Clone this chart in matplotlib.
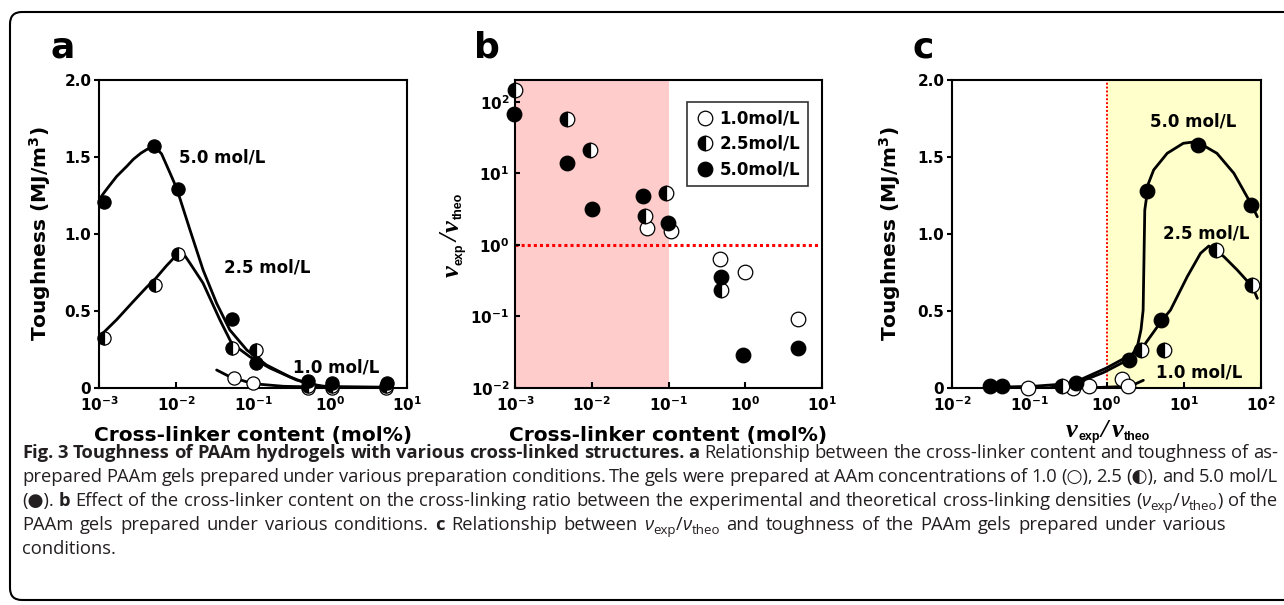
import numpy as np
import matplotlib
matplotlib.use("Agg")
import matplotlib.pyplot as plt
from matplotlib.patches import FancyBboxPatch
from matplotlib.transforms import IdentityTransform
from matplotlib.ticker import NullLocator

# ---------------- data ----------------
# panel a : toughness vs cross-linker content
a_x10 = [0.0564, 0.10, 0.52, 1.06, 5.4]
a_y10 = [0.063, 0.030, 0.0, 0.0, 0.0]
a_x25 = [0.00117, 0.0053, 0.0106, 0.054, 0.11, 0.52, 1.06, 5.4]
a_y25 = [0.324, 0.666, 0.871, 0.258, 0.250, 0.010, 0.010, 0.010]
a_x50 = [0.00117, 0.0052, 0.0106, 0.053, 0.108, 0.52, 1.06, 5.5]
a_y50 = [1.21, 1.57, 1.29, 0.45, 0.164, 0.047, 0.030, 0.034]
# fitted guide curves in panel a
a_fx50 = [1.0e-3, 1.15e-3, 1.3e-3, 1.5e-3, 1.69e-3, 2.0e-3, 2.3e-3, 2.79e-3, 3.5e-3, 4.15e-3,
          5.2e-3, 6.5e-3, 8.3e-3, 1.02e-2, 1.52e-2, 2.25e-2, 3.37e-2, 5.0e-2, 8.3e-2, 0.15,
          0.30, 0.55, 1.2, 6.0]
a_fy50 = [1.222, 1.265, 1.30, 1.34, 1.373, 1.41, 1.44, 1.485, 1.525, 1.548,
          1.572, 1.52, 1.40, 1.297, 1.026, 0.766, 0.55, 0.377, 0.247, 0.149,
          0.073, 0.02, 0.005, 0.005]
a_fx25 = [1.0e-3, 1.69e-3, 2.79e-3, 4.2e-3, 5.3e-3, 7.5e-3, 1.02e-2, 1.12e-2, 1.3e-2, 1.52e-2,
          2.24e-2, 3.72e-2, 5.28e-2, 9.1e-2, 0.165, 0.367, 0.8, 6.0]
a_fy25 = [0.331, 0.443, 0.562, 0.657, 0.705, 0.793, 0.864, 0.885, 0.86, 0.81,
          0.682, 0.442, 0.29, 0.203, 0.13, 0.052, 0.01, 0.004]
a_fx10 = [3.37e-2, 5.0e-2, 0.1, 0.25, 1.1, 6.0]
a_fy10 = [0.117, 0.073, 0.028, 0.011, 0.004, 0.004]

# panel b : nu_exp / nu_theo vs cross-linker content
b_x10 = [0.0527, 0.109, 0.475, 1.0, 4.87]
b_y10 = [1.71, 1.57, 0.63, 0.425, 0.093]
b_x25 = [0.00099, 0.00475, 0.0095, 0.0492, 0.0923, 0.48]
b_y25 = [149, 58.5, 21.6, 2.54, 5.26, 0.236]
b_x50 = [0.00098, 0.00475, 0.0100, 0.0464, 0.098, 0.48, 0.94, 4.87]
b_y50 = [68.8, 13.8, 3.18, 4.83, 2.05, 0.361, 0.029, 0.036]

# panel c : toughness vs nu_exp / nu_theo
c_x10 = [0.095, 0.37, 0.59, 1.57, 1.88]
c_y10 = [0.0, 0.0, 0.011, 0.06, 0.012]
c_x25 = [0.267, 2.83, 5.6, 26.0, 76.0]
c_y25 = [0.010, 0.249, 0.249, 0.897, 0.666]
c_x50 = [0.031, 0.045, 0.40, 1.98, 3.32, 5.1, 15.2, 74.0]
c_y50 = [0.012, 0.010, 0.032, 0.18, 1.28, 0.44, 1.578, 1.19]
c_fx50 = [0.0279, 0.112, 0.41, 0.91, 1.98, 2.51, 2.8, 2.98, 3.13, 3.5, 4.08, 6.1, 9.86,
          14.7, 26.9, 44.6, 73.5, 89.7]
c_fy50 = [0.004, 0.011, 0.032, 0.10, 0.188, 0.27, 0.38, 0.506, 1.156, 1.33, 1.416, 1.524, 1.589,
          1.60, 1.524, 1.394, 1.2, 1.112]
c_fx25 = [0.185, 0.41, 1.0, 2.83, 5.1, 6.73, 11.1, 16.5, 21.1, 33.1, 49.3, 77.3, 89.7]
c_fy25 = [0.0, 0.043, 0.13, 0.253, 0.432, 0.506, 0.723, 0.875, 0.922, 0.853, 0.766, 0.658, 0.582]
c_fx10 = [0.092, 0.5, 2.02, 3.0]
c_fy10 = [0.0, 0.0, 0.011, 0.05]

series_labels = ["1.0mol/L", "2.5mol/L", "5.0mol/L"]
curve_labels = ["1.0 mol/L", "2.5 mol/L", "5.0 mol/L"]
tough_ticks = [0, 0.5, 1.0, 1.5, 2.0]
tough_ticklabels = ["0", "0.5", "1.0", "1.5", "2.0"]

# ---------------- style ----------------
plt.rcParams.update({
    "font.family": "DejaVu Sans",
    "font.weight": "bold",
    "mathtext.fontset": "custom",
    "mathtext.rm": "DejaVu Sans:bold",
    "mathtext.bf": "DejaVu Sans:bold",
    "mathtext.it": "DejaVu Sans:italic:bold",
    "axes.linewidth": 1.5,
})

W, H = 1284, 605
fig = plt.figure(figsize=(W / 100, H / 100), dpi=100)
renderer = fig.canvas.get_renderer()
ID = IdentityTransform()


def px_axes(x0, x1, ytop, ybot):
    return fig.add_axes([x0 / W, 1 - ybot / H, (x1 - x0) / W, (ybot - ytop) / H])


axA = px_axes(99, 407, 80, 388)
axB = px_axes(515, 822, 80, 388)
axC = px_axes(952, 1261, 80, 388)

TICK_FS = 11
LAB_FS = 14.5
ANN_FS = 12

open_kw = dict(marker="o", linestyle="none", mfc="white", mec="black", mew=0.9)
half_kw = dict(marker="o", linestyle="none", fillstyle="left", mfc="black",
               mfcalt="white", mec="black", mew=0.9)
full_kw = dict(marker="o", linestyle="none", mfc="black", mec="black", mew=0.9)


def style_axes(ax, y_out=True):
    ax.tick_params(axis="x", direction="in", length=4, width=1.5, labelsize=TICK_FS, pad=5)
    ax.tick_params(axis="y", direction="out" if y_out else "in", length=3.5, width=1.5,
                   labelsize=TICK_FS, pad=2 if y_out else 4)
    ax.tick_params(top=False, right=False)
    ax.xaxis.set_minor_locator(NullLocator())
    ax.yaxis.set_minor_locator(NullLocator())


# ---------------- panel a ----------------
axA.set_xscale("log")
axA.set_xlim(1e-3, 1e1)
axA.set_ylim(0, 2.0)
for fx, fy in [(a_fx50, a_fy50), (a_fx25, a_fy25), (a_fx10, a_fy10)]:
    axA.plot(fx, fy, color="black", lw=2.0, zorder=2, solid_capstyle="round",
             solid_joinstyle="round")
axA.plot(a_x10, a_y10, ms=9.5, zorder=3, clip_on=False, **open_kw)
axA.plot(a_x25, a_y25, ms=9.5, zorder=4, clip_on=False, **half_kw)
axA.plot(a_x50, a_y50, ms=9.5, zorder=5, clip_on=False, **full_kw)
axA.set_xticks([1e-3, 1e-2, 1e-1, 1e0, 1e1])
axA.set_yticks(tough_ticks, tough_ticklabels)
style_axes(axA, y_out=True)
axA.set_xlabel("Cross-linker content (mol%)", fontsize=LAB_FS, fontweight="bold")
axA.set_ylabel("Toughness (MJ/m$^{3}$)", fontsize=LAB_FS, fontweight="bold")
axA.xaxis.set_label_coords(0.5, -0.125)
axA.yaxis.set_label_coords(-0.15, 0.5)
axA.text(0.40, 0.75, curve_labels[2], transform=axA.transAxes, fontsize=ANN_FS,
         ha="center", va="center")
axA.text(0.545, 0.39, curve_labels[1], transform=axA.transAxes, fontsize=ANN_FS,
         ha="center", va="center")
axA.text(0.77, 0.068, curve_labels[0], transform=axA.transAxes, fontsize=ANN_FS,
         ha="center", va="center")

# ---------------- panel b ----------------
axB.set_xscale("log")
axB.set_yscale("log")
axB.set_xlim(1e-3, 1e1)
axB.set_ylim(1e-2, 203)
axB.axvspan(1e-3, 1e-1, color="#ffcccc", lw=0, zorder=0)
axB.axhline(1.0, color="#ff0000", lw=2.2, linestyle=(0, (1, 1)), zorder=1)
h1, = axB.plot(b_x10, b_y10, ms=10.5, zorder=3, clip_on=False, label=series_labels[0], **open_kw)
h2, = axB.plot(b_x25, b_y25, ms=10.5, zorder=4, clip_on=False, label=series_labels[1], **half_kw)
h3, = axB.plot(b_x50, b_y50, ms=10.5, zorder=5, clip_on=False, label=series_labels[2], **full_kw)
axB.set_xticks([1e-3, 1e-2, 1e-1, 1e0, 1e1])
axB.set_yticks([1e-2, 1e-1, 1e0, 1e1, 1e2])
style_axes(axB, y_out=False)
axB.set_xlabel("Cross-linker content (mol%)", fontsize=LAB_FS, fontweight="bold")
axB.xaxis.set_label_coords(0.5, -0.125)
leg = axB.legend(handles=[h1, h2, h3], loc="upper right", bbox_to_anchor=(0.954, 0.929),
                 fontsize=ANN_FS, frameon=True, fancybox=False, framealpha=1,
                 edgecolor="#333333", handletextpad=0.3, handlelength=1.2,
                 borderpad=0.45, labelspacing=0.45, borderaxespad=0)
leg.get_frame().set_linewidth(1.2)

# ---------------- panel c ----------------
axC.set_xscale("log")
axC.set_xlim(1e-2, 1e2)
axC.set_ylim(0, 2.0)
axC.axvspan(1.0, 1e2, color="#ffffcc", lw=0, zorder=0)
axC.axvline(1.0, color="#ff0000", lw=1.4, linestyle=(0, (1, 1)), zorder=1)
for fx, fy in [(c_fx50, c_fy50), (c_fx25, c_fy25), (c_fx10, c_fy10)]:
    axC.plot(fx, fy, color="black", lw=2.0, zorder=2, solid_capstyle="round",
             solid_joinstyle="round")
axC.plot(c_x10, c_y10, ms=10.5, zorder=3, clip_on=False, **open_kw)
axC.plot(c_x25, c_y25, ms=10.5, zorder=4, clip_on=False, **half_kw)
axC.plot(c_x50, c_y50, ms=10.5, zorder=5, clip_on=False, **full_kw)
axC.set_xticks([1e-2, 1e-1, 1e0, 1e1, 1e2])
axC.set_yticks(tough_ticks, tough_ticklabels)
style_axes(axC, y_out=True)
axC.set_ylabel("Toughness (MJ/m$^{3}$)", fontsize=LAB_FS, fontweight="bold")
axC.yaxis.set_label_coords(-0.158, 0.5)
axC.text(0.78, 0.864, curve_labels[2], transform=axC.transAxes, fontsize=ANN_FS,
         ha="center", va="center")
axC.text(0.822, 0.503, curve_labels[1], transform=axC.transAxes, fontsize=ANN_FS,
         ha="center", va="center")
axC.text(0.80, 0.049, curve_labels[0], transform=axC.transAxes, fontsize=ANN_FS,
         ha="center", va="center")


# ---------------- composite nu_exp / nu_theo labels ----------------
NU_KW = dict(family=["Liberation Serif", "DejaVu Serif"], fontstyle="italic",
             fontweight="bold", fontsize=19)
SUB_KW = dict(family=["Liberation Sans", "DejaVu Sans"], fontweight="bold", fontsize=9)
SL_KW = dict(family=["Liberation Serif", "DejaVu Serif"], fontstyle="italic",
             fontweight="bold", fontsize=19)
nu_pieces = [("\u03bd", NU_KW, 0), ("exp", SUB_KW, 3), ("/", SL_KW, 0),
             ("\u03bd", NU_KW, 0), ("theo", SUB_KW, 3)]


def text_width(s, kw):
    t = fig.text(0, 0, s, transform=ID, **kw)
    w = t.get_window_extent(renderer).width
    t.remove()
    return w


def rich_label(cx, cy_img, pieces, vertical=False):
    widths = [text_width(s, kw) for s, kw, _ in pieces]
    gaps = [1.0, 1.0, 3.0, 1.0]
    total = sum(widths) + sum(gaps)
    pos = -total / 2
    for i, ((s, kw, drop), w) in enumerate(zip(pieces, widths)):
        if vertical:
            fig.text(cx + drop, H - cy_img + pos, s, transform=ID, rotation=90,
                     rotation_mode="anchor", ha="left", va="baseline", **kw)
        else:
            fig.text(cx + pos, H - cy_img - drop, s, transform=ID,
                     ha="left", va="baseline", **kw)
        pos += w + (gaps[i] if i < len(gaps) else 0)


rich_label(459, 235, nu_pieces, vertical=True)
rich_label(1108, 437, nu_pieces, vertical=False)

# ---------------- panel letters ----------------
for lx, letter in [(50, "a"), (474, "b"), (912, "c")]:
    fig.text(lx, H - 57, letter, transform=ID, fontsize=26,
             fontweight="bold", ha="left", va="baseline")

# ---------------- outer frame ----------------
frame = FancyBboxPatch((10, H - 600), 1400, 588, boxstyle="round,pad=0,rounding_size=12",
                       transform=ID, fill=False, lw=1.5, ec="black")
fig.add_artist(frame)

# ---------------- caption (justified) ----------------
CAP_FAM = ["Open Sans", "DejaVu Sans"]
CAP_COL = "#231f20"
cap_lines = [
    [("Fig. 3 Toughness of PAAm hydrogels with various cross-linked structures.", "b"),
     (" ", "n"), ("a", "b"),
     (" Relationship between the cross-linker content and toughness of as-", "n")],
    [("prepared PAAm gels prepared under various preparation conditions. The gels were "
      "prepared at AAm concentrations of 1.0 (\u25cb), 2.5 (\u25d0), and 5.0 mol/L", "n")],
    [("(\u25cf). ", "n"), ("b", "b"),
     (" Effect of the cross-linker content on the cross-linking ratio between the experimental "
      "and theoretical cross-linking densities (", "n"),
     ("\u03bd", "i"), ("exp", "s"), ("/", "n"), ("\u03bd", "i"), ("theo", "s"), (") of the", "n")],
    [("PAAm gels prepared under various conditions. ", "n"), ("c", "b"),
     (" Relationship between ", "n"), ("\u03bd", "i"), ("exp", "s"), ("/", "n"),
     ("\u03bd", "i"), ("theo", "s"),
     (" and toughness of the PAAm gels prepared under various", "n")],
    [("conditions.", "n")],
]
cap_base = [458, 482, 506, 530, 554]
cap_right = [1278, 1278, 1278, 1226, None]
CAP_X0 = 22


def kw_for(st, size):
    if st == "b":
        return dict(fontweight="bold", fontstyle="normal", fontsize=size)
    if st == "i":
        return dict(fontweight="normal", fontstyle="italic", fontsize=size)
    if st == "s":
        return dict(fontweight="normal", fontstyle="normal", fontsize=size * 0.72)
    return dict(fontweight="normal", fontstyle="normal", fontsize=size)


def measure(s, st, size):
    return text_width(s, dict(family=CAP_FAM, **kw_for(st, size)))


def words_of(line):
    words = [[]]
    for txt, st in line:
        parts = txt.split(" ")
        for i, p in enumerate(parts):
            if i > 0:
                words.append([])
            if p:
                words[-1].append((p, st))
    return [w for w in words if w]


def line_metrics(line, size):
    ws = words_of(line)
    widths = [[measure(p, st, size) for p, st in w] for w in ws]
    return ws, widths


base = 12.0
ws0, wd0 = line_metrics(cap_lines[0], base)
sp0 = measure("a a", "n", base) - measure("aa", "n", base)
nat0 = sum(sum(w) for w in wd0) + sp0 * (len(ws0) - 1)
CAP_FS = base * (cap_right[0] - CAP_X0) / nat0 * 0.997

for line, yb, xr in zip(cap_lines, cap_base, cap_right):
    ws, wd = line_metrics(line, CAP_FS)
    sp = measure("a a", "n", CAP_FS) - measure("aa", "n", CAP_FS)
    total = sum(sum(w) for w in wd)
    if xr is not None and len(ws) > 1:
        gap = (xr - CAP_X0 - total) / (len(ws) - 1)
    else:
        gap = sp
    x = CAP_X0
    for w, widths in zip(ws, wd):
        for (p, st), pw in zip(w, widths):
            dy = -0.22 * CAP_FS * 100 / 72 if st == "s" else 0
            fig.text(x, H - yb + dy, p, family=CAP_FAM, color=CAP_COL,
                     transform=ID, ha="left", va="baseline",
                     **kw_for(st, CAP_FS))
            x += pw
        x += gap

fig.savefig("out.png", dpi=100)
